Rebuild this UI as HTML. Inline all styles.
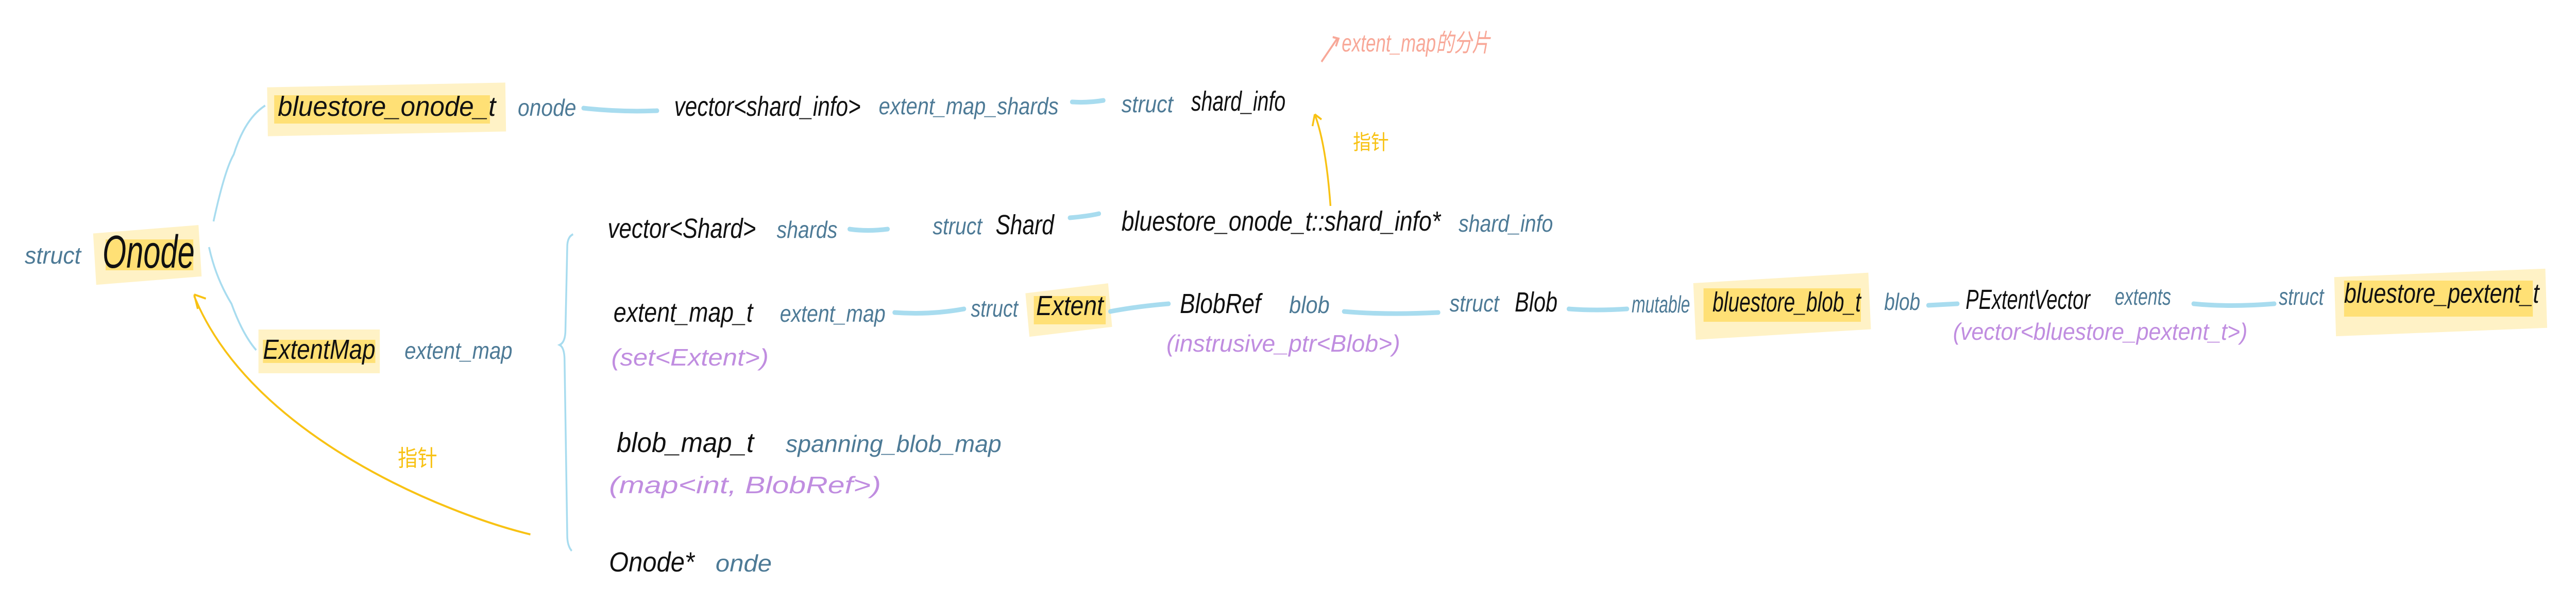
<!DOCTYPE html>
<html><head><meta charset="utf-8"><style>
html,body{margin:0;padding:0;background:#fff;width:100%;height:100%;overflow:hidden}
svg{display:block;position:absolute;left:0;top:0;width:100vw;height:100vh}
text{font-family:"Liberation Sans Narrow","Liberation Sans","Noto Sans CJK SC",sans-serif;font-style:italic}
.k{fill:#111;font-size:54px}
.b{fill:#4d7a96;font-size:46px}
.p{fill:#c08de0;font-size:46px}
.l{stroke:#a8dcef;stroke-width:9;fill:none;stroke-linecap:round}
.t{stroke:#a8dcef;stroke-width:4;fill:none}
.h{fill:#ffd95a;opacity:.75}
.h2{fill:#ffe9a0;opacity:.6}
</style></head><body>
<svg viewBox="0 0 5731 1179" preserveAspectRatio="none" xmlns="http://www.w3.org/2000/svg">
<rect class="h2" x="595" y="165" width="530" height="95" transform="rotate(-1 860 210)"/>
<rect class="h" x="610" y="185" width="480" height="55"/>
<rect class="h2" x="210" y="445" width="235" height="100" transform="rotate(-4 330 490)"/>
<rect class="h" x="235" y="465" width="195" height="60"/>
<rect class="h2" x="575" y="640" width="270" height="85"/>
<rect class="h" x="585" y="660" width="250" height="45"/>
<rect class="h2" x="2285" y="560" width="185" height="85" transform="rotate(-6 2375 600)"/>
<rect class="h" x="2300" y="575" width="160" height="55"/>
<rect class="h2" x="3770" y="540" width="390" height="110" transform="rotate(-3 3960 600)"/>
<rect class="h" x="3790" y="560" width="350" height="65"/>
<rect class="h2" x="5195" y="530" width="470" height="115" transform="rotate(-2 5430 590)"/>
<rect class="h" x="5215" y="545" width="420" height="70"/>

<path class="t" d="M475 430 Q500 330 520 300 Q545 230 590 205"/>
<path class="t" d="M465 480 Q480 540 515 590 Q540 650 570 680"/>
<path class="t" d="M1275 455 Q1262 460 1262 480 L1258 640 Q1258 665 1245 670 Q1256 675 1256 700 L1262 1040 Q1262 1060 1272 1070"/>
<path class="l" d="M1298 210 Q1380 218 1462 215"/>
<path class="l" d="M2385 198 Q2420 200 2455 195"/>
<path class="l" d="M1890 445 Q1930 450 1975 445"/>
<path class="l" d="M2380 423 Q2420 420 2445 415"/>
<path class="l" d="M1990 607 Q2070 612 2145 600"/>
<path class="l" d="M2470 605 Q2530 595 2600 590"/>
<path class="l" d="M2990 605 Q3080 612 3200 607"/>
<path class="l" d="M3490 600 Q3550 604 3620 600"/>
<path class="l" d="M4290 593 L4355 590"/>
<path class="l" d="M4880 590 Q4960 597 5060 590"/>

<path d="M1180 1038 C1000 1000 560 850 432 575" fill="none" stroke="#f8c214" stroke-width="4"/>
<path d="M432 572 L440 600 M432 572 L458 580" stroke="#f8c214" stroke-width="4" fill="none"/>
<path d="M2960 400 Q2950 280 2925 222" fill="none" stroke="#f8c214" stroke-width="4"/>
<path d="M2925 222 L2920 245 M2925 222 L2940 232" stroke="#f8c214" stroke-width="4" fill="none"/>
<text x="885" y="905" style="font-size:44px;fill:#f8c214;font-style:normal">指针</text>
<text x="3010" y="290" style="font-size:40px;fill:#f8c214;font-style:normal">指针</text>

<path d="M2940 120 L2975 75 M2965 72 L2978 75 L2972 90" stroke="#f8a898" stroke-width="4" fill="none"/>
<text x="2985" y="100" style="font-size:48px;fill:#f8a898" textLength="330" lengthAdjust="spacingAndGlyphs">extent_map的分片</text>

<text class="b" x="55" y="512" textLength="125" lengthAdjust="spacingAndGlyphs">struct</text>
<text class="k" x="228" y="520" style="font-size:90px" textLength="205" lengthAdjust="spacingAndGlyphs">Onode</text>
<text class="k" x="618" y="225" textLength="485" lengthAdjust="spacingAndGlyphs">bluestore_onode_t</text>
<text class="b" x="1152" y="225" textLength="130" lengthAdjust="spacingAndGlyphs">onode</text>
<text class="k" x="585" y="697" textLength="250" lengthAdjust="spacingAndGlyphs">ExtentMap</text>
<text class="b" x="900" y="697" textLength="240" lengthAdjust="spacingAndGlyphs">extent_map</text>

<text class="k" x="1500" y="225" textLength="415" lengthAdjust="spacingAndGlyphs">vector&lt;shard_info&gt;</text>
<text class="b" x="1955" y="222" textLength="400" lengthAdjust="spacingAndGlyphs">extent_map_shards</text>
<text class="b" x="2495" y="218" textLength="115" lengthAdjust="spacingAndGlyphs">struct</text>
<text class="k" x="2650" y="215" textLength="210" lengthAdjust="spacingAndGlyphs">shard_info</text>

<text class="k" x="1352" y="462" textLength="330" lengthAdjust="spacingAndGlyphs">vector&lt;Shard&gt;</text>
<text class="b" x="1728" y="462" textLength="135" lengthAdjust="spacingAndGlyphs">shards</text>
<text class="b" x="2075" y="455" textLength="110" lengthAdjust="spacingAndGlyphs">struct</text>
<text class="k" x="2215" y="455" textLength="130" lengthAdjust="spacingAndGlyphs">Shard</text>
<text class="k" x="2495" y="448" textLength="710" lengthAdjust="spacingAndGlyphs">bluestore_onode_t::shard_info*</text>
<text class="b" x="3245" y="450" textLength="210" lengthAdjust="spacingAndGlyphs">shard_info</text>

<text class="k" x="1365" y="625" textLength="310" lengthAdjust="spacingAndGlyphs">extent_map_t</text>
<text class="b" x="1735" y="625" textLength="235" lengthAdjust="spacingAndGlyphs">extent_map</text>
<text class="b" x="2160" y="615" textLength="105" lengthAdjust="spacingAndGlyphs">struct</text>
<text class="k" x="2305" y="612" textLength="150" lengthAdjust="spacingAndGlyphs">Extent</text>
<text class="k" x="2625" y="608" textLength="180" lengthAdjust="spacingAndGlyphs">BlobRef</text>
<text class="b" x="2868" y="608" textLength="90" lengthAdjust="spacingAndGlyphs">blob</text>
<text class="b" x="3225" y="605" textLength="110" lengthAdjust="spacingAndGlyphs">struct</text>
<text class="k" x="3370" y="605" textLength="95" lengthAdjust="spacingAndGlyphs">Blob</text>
<text class="b" x="3630" y="607" textLength="130" lengthAdjust="spacingAndGlyphs">mutable</text>
<text class="k" x="3810" y="605" textLength="330" lengthAdjust="spacingAndGlyphs">bluestore_blob_t</text>
<text class="b" x="4192" y="602" textLength="80" lengthAdjust="spacingAndGlyphs">blob</text>
<text class="k" x="4373" y="600" textLength="277" lengthAdjust="spacingAndGlyphs">PExtentVector</text>
<text class="b" x="4705" y="592" textLength="125" lengthAdjust="spacingAndGlyphs">extents</text>
<text class="b" x="5070" y="592" textLength="100" lengthAdjust="spacingAndGlyphs">struct</text>
<text class="k" x="5215" y="588" textLength="434" lengthAdjust="spacingAndGlyphs">bluestore_pextent_t</text>
<text class="p" x="1360" y="710" textLength="350" lengthAdjust="spacingAndGlyphs">(set&lt;Extent&gt;)</text>
<text class="p" x="2595" y="683" textLength="520" lengthAdjust="spacingAndGlyphs">(instrusive_ptr&lt;Blob&gt;)</text>
<text class="p" x="4345" y="660" textLength="655" lengthAdjust="spacingAndGlyphs">(vector&lt;bluestore_pextent_t&gt;)</text>

<text class="k" x="1372" y="878" textLength="305" lengthAdjust="spacingAndGlyphs">blob_map_t</text>
<text class="b" x="1748" y="878" textLength="480" lengthAdjust="spacingAndGlyphs">spanning_blob_map</text>
<text class="p" x="1355" y="958" textLength="605" lengthAdjust="spacingAndGlyphs">(map&lt;int, BlobRef&gt;)</text>

<text class="k" x="1355" y="1110" textLength="190" lengthAdjust="spacingAndGlyphs">Onode*</text>
<text class="b" x="1592" y="1110" textLength="125" lengthAdjust="spacingAndGlyphs">onde</text>
</svg>
</body></html>
